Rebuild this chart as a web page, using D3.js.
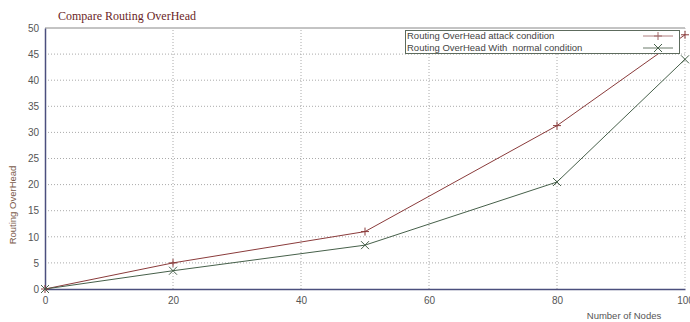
<!DOCTYPE html>
<html>
<head>
<meta charset="utf-8">
<script src="https://cdn.jsdelivr.net/npm/d3@7"></script>
<style>
  body { margin: 0; background: #fff; }
</style>
</head>
<body>
<div id="chart"></div>
<script>
// data
const nodes = [0, 20, 50, 80, 100];
const attack = [0, 5, 11, 31.3, 48.7];
const normal = [0, 3.5, 8.4, 20.5, 44];
const xTicks = [0, 20, 40, 60, 80, 100];
const yTicks = [0, 5, 10, 15, 20, 25, 30, 35, 40, 45, 50];
const seriesNames = ["Routing OverHead attack condition", "Routing OverHead With  normal condition"];

const W = 690, H = 322;
const margin = {top: 28, right: 5, bottom: 33, left: 45};

const svg = d3.select("#chart").append("svg")
  .attr("width", W).attr("height", H);

const x = d3.scaleLinear().domain([0, 100]).range([margin.left, W - margin.right]);
const y = d3.scaleLinear().domain([0, 50]).range([H - margin.bottom, margin.top]);

// grid
svg.append("g").selectAll("line.v")
  .data(xTicks.slice(1, -1)).join("line")
  .attr("x1", d => x(d)).attr("x2", d => x(d))
  .attr("y1", y(0)).attr("y2", y(50))
  .attr("stroke", "#aaa").attr("stroke-dasharray", "1,2");
svg.append("g").selectAll("line.h")
  .data(yTicks.slice(1, -1)).join("line")
  .attr("x1", x(0)).attr("x2", x(100))
  .attr("y1", d => y(d)).attr("y2", d => y(d))
  .attr("stroke", "#aaa").attr("stroke-dasharray", "1,2");

// frame top/right
svg.append("line").attr("x1", x(0)).attr("x2", x(100)).attr("y1", y(50)).attr("y2", y(50))
  .attr("stroke", "#888");
svg.append("line").attr("x1", x(100)).attr("x2", x(100)).attr("y1", y(50)).attr("y2", y(0))
  .attr("stroke", "#bbb").attr("stroke-dasharray", "1,2");

// axes
const xAxis = svg.append("g").attr("transform", `translate(0,${y(0)})`)
  .call(d3.axisBottom(x).tickValues(xTicks).tickSize(0).tickPadding(8));
const yAxis = svg.append("g").attr("transform", `translate(${x(0)},0)`)
  .call(d3.axisLeft(y).tickValues(yTicks).tickSize(0).tickPadding(6));
[xAxis, yAxis].forEach(a => {
  a.select(".domain").attr("stroke", "#4b4f7e").attr("stroke-width", 1.5);
  a.selectAll("text").attr("fill", "#555").style("font-family", "Liberation Sans, Arial, sans-serif").style("font-size", "10px");
});

// lines + markers
const line = d3.line().x((d, i) => x(nodes[i])).y(d => y(d));
const colA = "#8a3b3b", colN = "#46604a";

svg.append("path").datum(attack).attr("d", line)
  .attr("fill", "none").attr("stroke", colA).attr("stroke-width", 1);
svg.append("path").datum(normal).attr("d", line)
  .attr("fill", "none").attr("stroke", colN).attr("stroke-width", 1);

function drawPlus(g, cx, cy, c) {
  g.append("path").attr("d", `M${cx - 4},${cy}H${cx + 4}M${cx},${cy - 4}V${cy + 4}`)
    .attr("stroke", c).attr("fill", "none");
}
function drawX(g, cx, cy, c) {
  g.append("path").attr("d", `M${cx - 4},${cy - 4}L${cx + 4},${cy + 4}M${cx - 4},${cy + 4}L${cx + 4},${cy - 4}`)
    .attr("stroke", c).attr("fill", "none");
}
const marks = svg.append("g");
attack.forEach((v, i) => drawPlus(marks, x(nodes[i]), y(v), colA));
normal.forEach((v, i) => drawX(marks, x(nodes[i]), y(v), colN));

// legend
const lg = svg.append("g");
lg.append("rect").attr("x", 405.5).attr("y", 30.5).attr("width", 274).attr("height", 23)
  .attr("fill", "#fff").attr("stroke", "#5d6b5d");
seriesNames.forEach((s, i) => {
  lg.append("text").attr("x", 407).attr("y", 39 + i * 11.5).text(s)
    .style("white-space", "pre")
    .attr("fill", "#444").style("font-family", "Liberation Sans, Arial, sans-serif").style("font-size", "9.5px");
  lg.append("line").attr("x1", 643).attr("x2", 673).attr("y1", 36 + i * 12).attr("y2", 36 + i * 12)
    .attr("stroke", i ? "#6a7a6a" : "#b08080");
});
drawPlus(lg, 658, 36, "#a06868");
drawX(lg, 658, 48, colN);

// titles
svg.append("text").attr("x", 58).attr("y", 20).text("Compare Routing OverHead")
  .attr("fill", "#6b1f1f").style("font-family", "Liberation Serif, Times New Roman, serif").style("font-size", "12px");
svg.append("text").attr("transform", `translate(16,205) rotate(-90)`).attr("text-anchor", "middle")
  .text("Routing OverHead").attr("fill", "#7a5a4a")
  .style("font-family", "Liberation Sans, Arial, sans-serif").style("font-size", "9.5px");
svg.append("text").attr("x", 624).attr("y", 319).attr("text-anchor", "middle")
  .text("Number of Nodes").attr("fill", "#555")
  .style("font-family", "Liberation Sans, Arial, sans-serif").style("font-size", "9.5px");
</script>
</body>
</html>
